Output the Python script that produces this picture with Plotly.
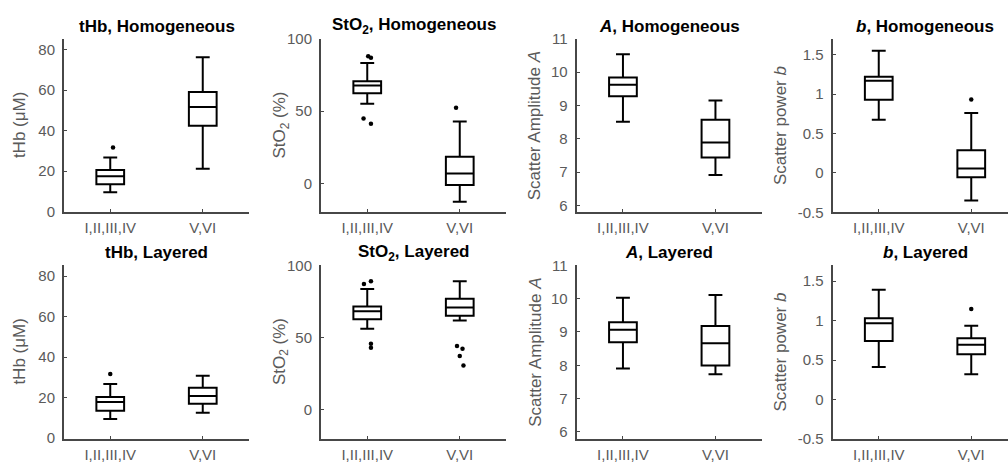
import plotly.graph_objects as go
from plotly.subplots import make_subplots

# ---------------- data ----------------
categories = ["I,II,III,IV", "V,VI"]

# five-number summaries per category: [lower whisker, Q1, median, Q3, upper whisker]
thb_hom_box = [[9.5, 13.5, 17.5, 20.5, 26.7], [21.1, 42.4, 51.6, 59.0, 76.2]]
sto2_hom_box = [[55.1, 62.4, 67.8, 70.7, 83.3], [-12.7, -1.1, 6.9, 18.4, 42.9]]
a_hom_box = [[8.51, 9.28, 9.62, 9.84, 10.54], [6.91, 7.44, 7.89, 8.57, 9.15]]
b_hom_box = [[0.674, 0.927, 1.17, 1.22, 1.549], [-0.35, -0.054, 0.056, 0.288, 0.76]]

thb_lay_box = [[9.4, 13.5, 17.8, 20.3, 26.7], [12.5, 17.0, 20.8, 24.8, 30.8]]
sto2_lay_box = [[56.2, 62.7, 68.2, 71.6, 83.6], [61.8, 65.1, 70.9, 76.9, 89.1]]
a_lay_box = [[7.90, 8.69, 9.07, 9.29, 10.03], [7.73, 7.99, 8.66, 9.18, 10.11]]
b_lay_box = [[0.41, 0.74, 0.967, 1.03, 1.39], [0.32, 0.573, 0.695, 0.776, 0.935]]

# outliers per category
thb_hom_out = [[31.7], []]
sto2_hom_out = [[88.0, 86.9, 44.9, 41.3], [52.4]]
a_hom_out = [[], []]
b_hom_out = [[], [0.93]]
thb_lay_out = [[31.7], []]
sto2_lay_out = [[89.1, 87.1, 45.8, 43.1], [44.2, 42.4, 37.3, 30.7]]
a_lay_out = [[], []]
b_lay_out = [[], [1.146]]

# small horizontal jitter of outlier dots (as drawn in the reference)
thb_hom_jit = [[0.03], []]
sto2_hom_jit = [[0.01, 0.04, -0.04, 0.04], [-0.04]]
b_hom_jit = [[], [0.0]]
thb_lay_jit = [[0.0], []]
sto2_lay_jit = [[0.04, -0.036, 0.04, 0.04], [-0.03, 0.03, 0.0, 0.04]]
b_lay_jit = [[], [0.0]]

# axis ticks
thb_ticks = [0, 20, 40, 60, 80]
sto2_ticks = [0, 50, 100]
a_ticks = [6, 7, 8, 9, 10, 11]
b_ticks = [-0.5, 0, 0.5, 1, 1.5]
b_ticklabels = ["-0.5", "0", "0.5", "1", "1.5"]

titles = [
    "<b>tHb, Homogeneous</b>", "<b>StO<sub>2</sub>, Homogeneous</b>",
    "<b><i>A</i>, Homogeneous</b>", "<b><i>b</i>, Homogeneous</b>",
    "<b>tHb, Layered</b>", "<b>StO<sub>2</sub>, Layered</b>",
    "<b><i>A</i>, Layered</b>", "<b><i>b</i>, Layered</b>",
]
ylabels = ["tHb (\u03bcM)", "StO<sub>2</sub> (%)", "Scatter Amplitude <i>A</i>", "Scatter power <i>b</i>"]

# ---------------- layout helpers ----------------
W, H = 1008, 470
col_left = [64, 321, 576.7, 832.5]     # pixel x of y-axis line
plot_w = 185
row_top = [31, 266]
plot_h = 180
ylab_off = [44.5, 40, 42, 52]
title_y = [18, 253]

yranges = [[-0.4, 85.3], [-20, 100], [5.79, 11], [-0.5, 1.7]]
yticks = [thb_ticks, sto2_ticks, a_ticks, b_ticks]
yticktext = [[str(v) for v in thb_ticks], [str(v) for v in sto2_ticks],
             [str(v) for v in a_ticks], b_ticklabels]

boxes = [thb_hom_box, sto2_hom_box, a_hom_box, b_hom_box,
         thb_lay_box, sto2_lay_box, a_lay_box, b_lay_box]
outs = [thb_hom_out, sto2_hom_out, a_hom_out, b_hom_out,
        thb_lay_out, sto2_lay_out, a_lay_out, b_lay_out]
jits = [thb_hom_jit, sto2_hom_jit, [[], []], b_hom_jit,
        thb_lay_jit, sto2_lay_jit, [[], []], b_lay_jit]

fig = make_subplots(rows=2, cols=4)

font_family = "Liberation Sans, Arial, sans-serif"
axis_col = "#474747"
text_col = "#5a5a5a"
xpos = [1, 2]

for idx in range(8):
    r, c = idx // 4, idx % 4
    box = boxes[idx]
    fig.add_trace(go.Box(
        x=xpos,
        lowerfence=[b[0] for b in box],
        q1=[b[1] for b in box],
        median=[b[2] for b in box],
        q3=[b[3] for b in box],
        upperfence=[b[4] for b in box],
        width=0.3, whiskerwidth=0.5,
        line=dict(color="black", width=2),
        fillcolor="rgba(255,255,255,0)",
        boxpoints=False, showlegend=False, hoverinfo="skip",
    ), row=r + 1, col=c + 1)
    ox, oy = [], []
    for k in range(2):
        for v, j in zip(outs[idx][k], jits[idx][k]):
            ox.append(xpos[k] + j)
            oy.append(v)
    if ox:
        fig.add_trace(go.Scatter(
            x=ox, y=oy, mode="markers",
            marker=dict(color="black", size=4.5),
            showlegend=False, hoverinfo="skip",
        ), row=r + 1, col=c + 1)

    n = idx + 1
    xa = "xaxis" if n == 1 else f"xaxis{n}"
    ya = "yaxis" if n == 1 else f"yaxis{n}"
    x0 = col_left[c]
    x1 = min(x0 + plot_w, W)
    xr_end = 0.5 + (x1 - x0) / (plot_w / 2.0)
    y_top = row_top[r]
    y_bot = y_top + plot_h
    fig.layout[xa].update(
        domain=[x0 / W, x1 / W], range=[0.5, xr_end],
        tickvals=xpos, ticktext=categories,
        showline=True, linecolor=axis_col, linewidth=2,
        ticks="inside", ticklen=3, tickwidth=1, tickcolor=axis_col,
        showgrid=False, zeroline=False, ticklabelstandoff=1,
        tickfont=dict(family=font_family, size=15, color=text_col),
    )
    fig.layout[ya].update(
        domain=[1 - y_bot / H, 1 - y_top / H], range=yranges[c],
        tickvals=yticks[c], ticktext=yticktext[c],
        showline=True, linecolor=axis_col, linewidth=2,
        ticks="inside", ticklen=3, tickwidth=1, tickcolor=axis_col,
        showgrid=False, zeroline=False, ticklabelstandoff=4,
        tickfont=dict(family=font_family, size=15, color=text_col),
    )
    # panel title
    fig.add_annotation(
        x=(x0 + 92.5) / W, y=1 - title_y[r] / H, xref="paper", yref="paper",
        text=titles[idx], showarrow=False, xanchor="center", yanchor="middle",
        font=dict(family=font_family, size=17, color="black"),
    )
    # y-axis label
    fig.add_annotation(
        x=(x0 - ylab_off[c]) / W, y=1 - (y_top + plot_h / 2) / H,
        xref="paper", yref="paper", text=ylabels[c], textangle=-90,
        showarrow=False, xanchor="center", yanchor="middle",
        font=dict(family=font_family, size=17, color=text_col),
    )

fig.update_layout(
    width=W, height=H, margin=dict(l=0, r=0, t=0, b=0),
    paper_bgcolor="white", plot_bgcolor="white",
    font=dict(family=font_family),
)

fig.write_html(
    "out.html",
    config={"displayModeBar": False},
    post_script="document.body.style.margin='0';document.body.style.overflow='hidden';",
)
